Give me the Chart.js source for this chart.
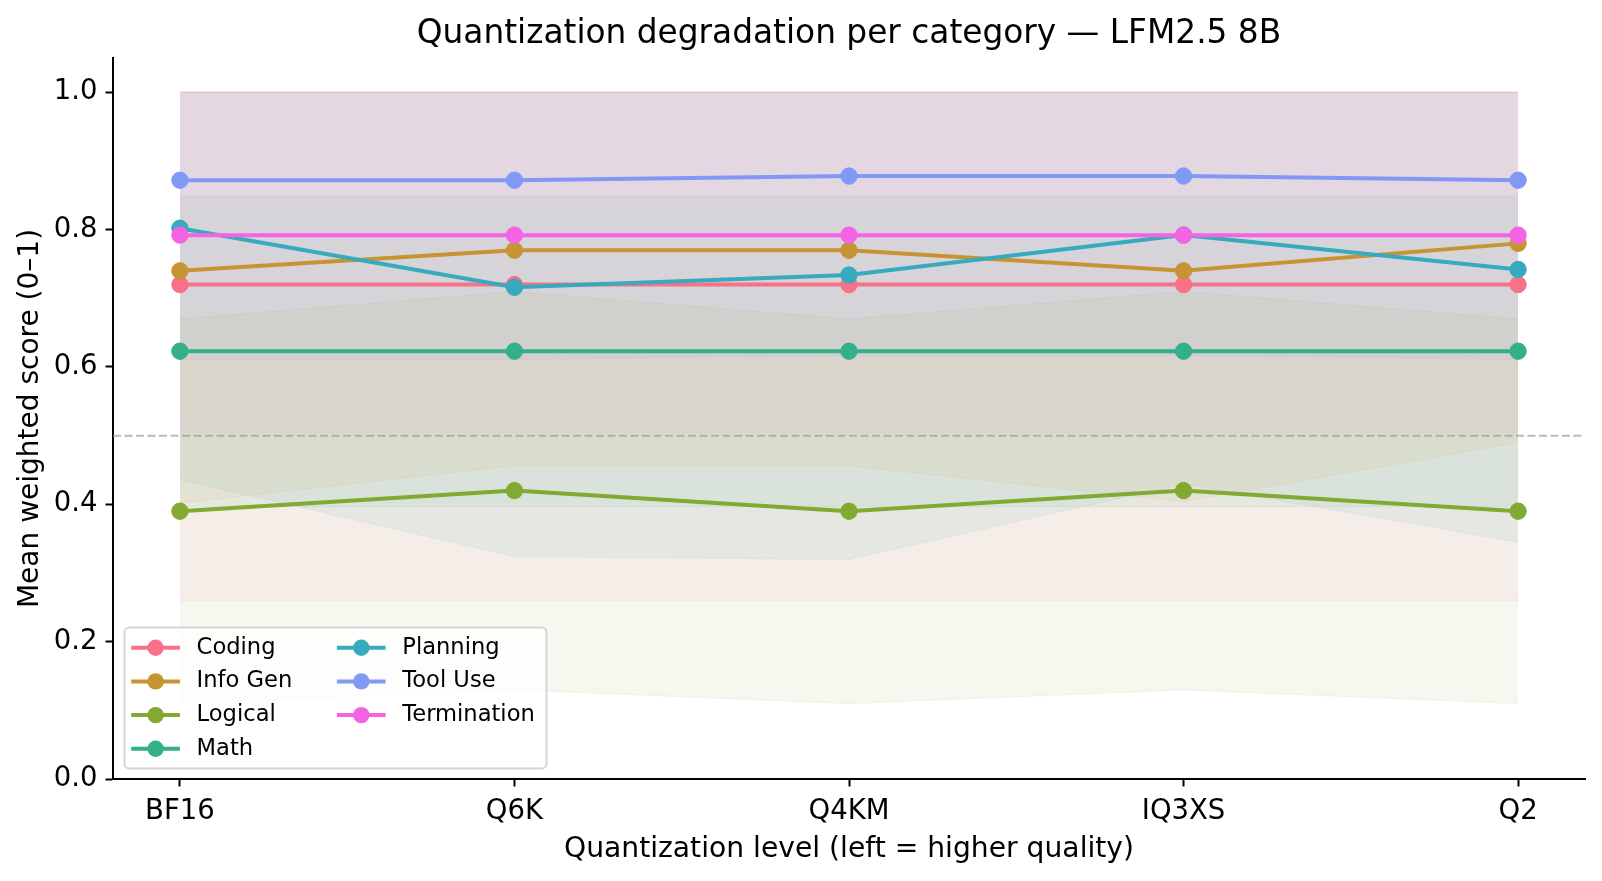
<!DOCTYPE html>
<html>
<head>
<meta charset="utf-8">
<script src="https://cdn.jsdelivr.net/npm/chart.js@4.4.1/dist/chart.umd.min.js"></script>
<style>
  html, body { margin: 0; padding: 0; background: #fff; }
  #wrap { width: 1602px; height: 881px; }
</style>
</head>
<body>
<div id="wrap"><canvas id="chart"></canvas></div>
<script>
// quantization levels (x axis) and y ticks
var levels = ["BF16", "Q6K", "Q4KM", "IQ3XS", "Q2"];
var yTicks = [0, 0.2, 0.4, 0.6, 0.8, 1.0];
var referenceLine = 0.5;

var categories = ["Coding", "Info Gen", "Logical", "Math", "Planning", "Tool Use", "Termination"];
var colors = ["#f77189", "#c69432", "#82a931", "#34af8a", "#37aabd", "#8199f4", "#f563e5"];

// mean score per category
var coding      = [0.720, 0.720, 0.720, 0.720, 0.720];
var infoGen     = [0.740, 0.770, 0.770, 0.740, 0.780];
var logical     = [0.390, 0.420, 0.390, 0.420, 0.390];
var math        = [0.623, 0.623, 0.623, 0.623, 0.623];
var planning    = [0.802, 0.716, 0.734, 0.792, 0.742];
var toolUse     = [0.872, 0.872, 0.878, 0.878, 0.872];
var termination = [0.792, 0.792, 0.792, 0.792, 0.792];

// shaded band (low / high) per category
var codingLow      = [0.260, 0.260, 0.260, 0.260, 0.260];
var codingHigh     = [1.000, 1.000, 1.000, 1.000, 1.000];
var infoGenLow     = [0.402, 0.456, 0.456, 0.404, 0.490];
var infoGenHigh    = [1.000, 1.000, 1.000, 1.000, 1.000];
var logicalLow     = [0.110, 0.130, 0.110, 0.130, 0.110];
var logicalHigh    = [0.670, 0.710, 0.670, 0.710, 0.670];
var mathLow        = [0.397, 0.397, 0.397, 0.397, 0.397];
var mathHigh       = [0.849, 0.849, 0.849, 0.849, 0.849];
var planningLow    = [0.436, 0.324, 0.320, 0.430, 0.345];
var planningHigh   = [1.000, 1.000, 1.000, 1.000, 1.000];
var toolUseLow     = [0.611, 0.611, 0.617, 0.617, 0.611];
var toolUseHigh    = [1.000, 1.000, 1.000, 1.000, 1.000];
var terminationLow = [0.505, 0.505, 0.505, 0.505, 0.505];
var terminationHigh= [1.000, 1.000, 1.000, 1.000, 1.000];

var means = [coding, infoGen, logical, math, planning, toolUse, termination];
var lows  = [codingLow, infoGenLow, logicalLow, mathLow, planningLow, toolUseLow, terminationLow];
var highs = [codingHigh, infoGenHigh, logicalHigh, mathHigh, planningHigh, toolUseHigh, terminationHigh];

var FONT = "'DejaVu Sans', sans-serif";
var BAND_ALPHA = 0.08;

function toPoints(arr) {
    return arr.map(function (v, i) { return { x: i, y: v }; });
}

function withAlpha(hex, a) {
    var r = parseInt(hex.substr(1, 2), 16), g = parseInt(hex.substr(3, 2), 16), b = parseInt(hex.substr(5, 2), 16);
    return "rgba(" + r + "," + g + "," + b + "," + a + ")";
}

var datasets = [];

// category lines, Termination ends on top
categories.forEach(function (name, i) {
    datasets.push({
        label: name,
        data: toPoints(means[i]),
        borderColor: colors[i],
        backgroundColor: colors[i],
        borderWidth: 4,
        pointRadius: 8.2,
        pointBorderWidth: 1,
        pointBorderColor: colors[i],
        pointBackgroundColor: colors[i],
        fill: false,
        order: categories.length - i
    });
});

// dashed reference
datasets.push({
    label: "ref",
    data: [{ x: -0.2, y: referenceLine }, { x: levels.length - 0.8, y: referenceLine }],
    borderColor: "rgba(150,150,150,0.65)",
    borderWidth: 2,
    borderDash: [8, 3.5],
    pointRadius: 0,
    fill: false,
    order: 20
});

// bands: low line then high line filled to the previous dataset
categories.forEach(function (name, i) {
    datasets.push({
        label: name + " low",
        data: toPoints(lows[i]),
        borderColor: withAlpha(colors[i], BAND_ALPHA),
        borderWidth: 1.5,
        pointRadius: 0,
        fill: false,
        order: 30
    });
    datasets.push({
        label: name + " high",
        data: toPoints(highs[i]),
        borderColor: withAlpha(colors[i], BAND_ALPHA),
        backgroundColor: withAlpha(colors[i], BAND_ALPHA),
        borderWidth: 1.5,
        pointRadius: 0,
        fill: "-1",
        order: 30
    });
});

// matplotlib style legend box in the lower left corner
var legendBox = {
    id: "legendBox",
    afterDraw: function (chart) {
        var ctx = chart.ctx;
        var area = chart.chartArea;
        var left = area.left + 11.5;
        var bottom = area.bottom - 10.5;
        var w = 422, h = 141;
        var top = bottom - h;

        ctx.save();
        ctx.beginPath();
        if (ctx.roundRect) ctx.roundRect(left, top, w, h, 5); else ctx.rect(left, top, w, h);
        ctx.fillStyle = "rgba(255,255,255,0.8)";
        ctx.fill();
        ctx.lineWidth = 2;
        ctx.strokeStyle = "#d6d6d6";
        ctx.stroke();

        ctx.font = "22.6px " + FONT;
        ctx.textBaseline = "middle";
        ctx.textAlign = "left";
        var rows = 4;
        categories.forEach(function (name, i) {
            var col = Math.floor(i / rows), row = i % rows;
            var hx = left + 6.7 + col * 205.7;
            var cy = top + 20.2 + row * 33.7;
            ctx.strokeStyle = colors[i];
            ctx.lineWidth = 4;
            ctx.beginPath();
            ctx.moveTo(hx, cy);
            ctx.lineTo(hx + 48.7, cy);
            ctx.stroke();
            ctx.fillStyle = colors[i];
            ctx.beginPath();
            ctx.arc(hx + 24.4, cy, 8.2, 0, Math.PI * 2);
            ctx.fill();
            ctx.fillStyle = "#000";
            ctx.fillText(name, hx + 65.4, cy);
        });
        ctx.restore();
    }
};

var ctx = document.getElementById("chart").getContext("2d");
var chart = new Chart(ctx, {
    type: "line",
    data: { datasets: datasets },
    plugins: [legendBox],
    options: {
        responsive: true,
        maintainAspectRatio: false,
        animation: false,
        devicePixelRatio: 1,
        layout: { padding: { top: 0, right: 17, bottom: 0, left: 0 } },
        plugins: {
            legend: { display: false },
            tooltip: { enabled: false },
            title: {
                display: true,
                text: "Quantization degradation per category — LFM2.5 8B",
                color: "#000",
                fullSize: false,
                font: { family: FONT, size: 32.8, weight: "normal" },
                padding: { top: 15, bottom: 3.6 }
            }
        },
        scales: {
            x: {
                type: "linear",
                min: -0.2,
                max: levels.length - 0.8,
                afterBuildTicks: function (scale) {
                    scale.ticks = levels.map(function (_, i) { return { value: i }; });
                },
                afterFit: function (scale) { scale.height = 102; },
                ticks: {
                    color: "#000",
                    font: { family: FONT, size: 27.5 },
                    padding: 9,
                    maxRotation: 0,
                    autoSkip: false,
                    callback: function (v) { return levels[v]; }
                },
                grid: { drawOnChartArea: false, drawTicks: true, tickLength: 7.5, tickWidth: 2, tickColor: "#000" },
                border: { display: true, color: "#000", width: 2 },
                title: {
                    display: true,
                    text: "Quantization level (left = higher quality)",
                    color: "#000",
                    font: { family: FONT, size: 28.2 },
                    padding: { top: 0, bottom: 14 }
                }
            },
            y: {
                type: "linear",
                min: 0,
                max: 1.05,
                afterBuildTicks: function (scale) {
                    scale.ticks = yTicks.map(function (v) { return { value: v }; });
                },
                afterFit: function (scale) { scale.width = 113; },
                ticks: {
                    color: "#000",
                    font: { family: FONT, size: 27.5 },
                    padding: 8,
                    callback: function (v) { return v.toFixed(1); }
                },
                grid: { drawOnChartArea: false, drawTicks: true, tickLength: 7.5, tickWidth: 2, tickColor: "#000" },
                border: { display: true, color: "#000", width: 2 },
                title: {
                    display: true,
                    text: "Mean weighted score (0–1)",
                    color: "#000",
                    font: { family: FONT, size: 28 },
                    padding: { top: 13.9, bottom: 0 }
                }
            }
        }
    }
});
</script>
</body>
</html>
